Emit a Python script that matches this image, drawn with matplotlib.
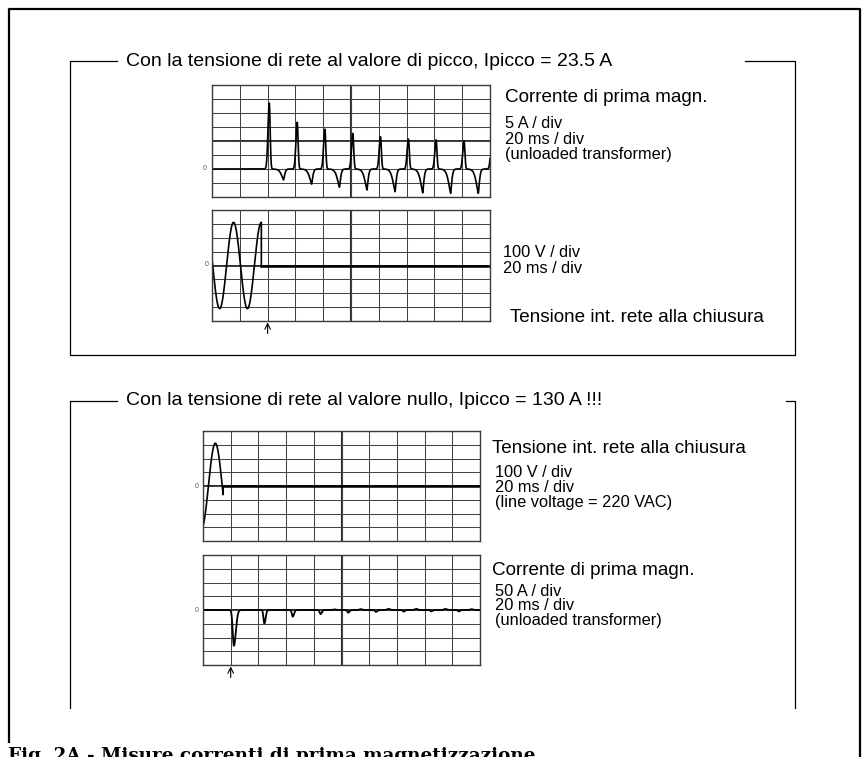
import numpy as np
import matplotlib.pyplot as plt

plt.rcParams['font.family'] = ['Liberation Sans', 'DejaVu Sans']

W, H = 868, 757

# --- oscilloscope readings (ms, A, V) ---
# peak-voltage switch-on: inrush current peaks and the negative dips between them
pk_t = [41.2, 61.3, 81.2, 101.3, 121.2, 141.3, 161.2, 181.3, 201.3]
pk_a = [23.5, 16.7, 14.2, 12.7, 11.5, 10.7, 10.4, 10.1, 10.0]
dip_t = [51.5, 71.7, 91.7, 111.5, 131.7, 151.6, 171.7, 191.6]
dip_a = [-3.9, -5.4, -6.5, -7.5, -8.1, -8.5, -8.7, -8.7]

# line voltage across the switch, peak-voltage case
v1_peak = 311.0
v1_zero_t = 0.5        # ms, downward-going zero crossing reference
v1_close_t = 35.5      # ms, switch closes at the voltage peak

# zero-voltage switch-on
v2_peak = 311.0
v2_zero_t = 3.9        # ms, upward zero crossing
v2_close_t = 14.6      # ms
i2_t = [22.3, 44.3, 64.8, 84.9, 104.8, 124.9, 144.9, 164.8, 184.7]
i2_a = [-130, -49, -24, -15, -10, -7, -6, -5, -5]
bump_t = [95, 114, 134, 154, 175, 194]
bump_a = [2, 3, 4, 4, 4, 3]

arrow1_t = 40
arrow2_t = 20


def px_axes(fig, x0, y0, x1, y1):
    return fig.add_axes([x0 / W, 1 - y1 / H, (x1 - x0) / W, (y1 - y0) / H])


def scope(ax, ylo, yhi, step):
    ax.set_xlim(0, 200)
    ax.set_ylim(ylo, yhi)
    ax.set_xticks(np.arange(0, 201, 20))
    ax.set_yticks(np.arange(ylo, yhi + step / 2, step))
    ax.grid(True, color='#444444', lw=0.75)
    ax.tick_params(length=0, labelbottom=False, labelleft=False)
    for s in ax.spines.values():
        s.set_color('#3c3c3c')
        s.set_linewidth(1.0)
    ax.axvline(100, color='#2a2a2a', lw=1.5, zorder=1)
    ax.axhline((ylo + yhi) / 2, color='#2a2a2a', lw=1.4, zorder=1)
    ax.set_facecolor('none')


def pulses(t, times, amps, sl, sr, p=2.0):
    y = np.zeros_like(t)
    for tc, a in zip(times, amps):
        s = np.where(t < tc, sl, sr)
        y += a * np.exp(-np.abs((t - tc) / s) ** p)
    return y


fig = plt.figure(figsize=(W / 100, H / 100), dpi=100)
bg = fig.add_axes([0, 0, 1, 1])
bg.set_xlim(0, W)
bg.set_ylim(H, 0)
bg.axis('off')

# outer frame
bg.plot([9, 9, 860, 860], [743, 9, 9, H], color='k', lw=1.6, solid_capstyle='butt')

# group brackets
lk = dict(color='k', lw=0.9)
bg.plot([117, 70, 70, 795, 795, 745], [60.7, 60.7, 355, 355, 60.7, 60.7], **lk)
bg.plot([117, 70, 70], [400.7, 400.7, 708], **lk)
bg.plot([786, 795, 795], [400.7, 400.7, 708], **lk)

bg.text(126, 66, 'Con la tensione di rete al valore di picco, Ipicco = 23.5 A',
        fontsize=14, va='baseline')
bg.text(126, 405, 'Con la tensione di rete al valore nullo, Ipicco = 130 A !!!',
        fontsize=14, va='baseline')

big, small = 13.6, 11.8
labels = [
    (505, 101.5, 'Corrente di prima magn.', big),
    (505, 128.3, '5 A / div', small),
    (505, 144.3, '20 ms / div', small),
    (505, 159.3, '(unloaded transformer)', small),
    (503, 256.7, '100 V / div', small),
    (503, 272.7, '20 ms / div', small),
    (510, 321.7, 'Tensione int. rete alla chiusura', big),
    (492, 453, 'Tensione int. rete alla chiusura', big),
    (495, 476.7, '100 V / div', small),
    (495, 492.2, '20 ms / div', small),
    (495, 507.5, '(line voltage = 220 VAC)', small),
    (492, 575, 'Corrente di prima magn.', big),
    (495, 596, '50 A / div', small),
    (495, 610.5, '20 ms / div', small),
    (495, 625, '(unloaded transformer)', small),
]
for x, y, s, fs in labels:
    bg.text(x, y, s, fontsize=fs, va='baseline')

bg.text(8, 761, 'Fig. 2A - Misure correnti di prima magnetizzazione',
        fontsize=13.2, fontweight='bold', family='DejaVu Serif', va='baseline')

t = np.linspace(0, 200, 4001)
tc = 'k'

# scope 1: inrush current, peak-voltage case
ax1 = px_axes(fig, 212, 85, 490, 197)
scope(ax1, -10, 30, 5)
i1 = pulses(t, pk_t, pk_a, 1.3, 0.9) + pulses(t, dip_t, dip_a, 2.2, 1.1, p=1.4)
ax1.plot(t, i1, color=tc, lw=1.2)

# scope 2: switch voltage, peak-voltage case
ax2 = px_axes(fig, 212, 210, 490, 321)
scope(ax2, -400, 400, 100)
tv = t[t <= v1_close_t]
v1 = -v1_peak * np.sin(2 * np.pi * (tv - v1_zero_t) / 20)
ax2.plot(np.r_[tv, v1_close_t], np.r_[v1, 0], color=tc, lw=1.2)
ax2.plot([v1_close_t, 200], [0, 0], color=tc, lw=1.8)

# scope 3: switch voltage, zero-voltage case
ax3 = px_axes(fig, 203, 431, 480, 541)
scope(ax3, -400, 400, 100)
tv = t[t <= v2_close_t]
v2 = v2_peak * np.sin(2 * np.pi * (tv - v2_zero_t) / 20)
ax3.plot(np.r_[tv, v2_close_t], np.r_[v2, 0], color=tc, lw=1.2)
ax3.plot([v2_close_t, 200], [0, 0], color=tc, lw=1.8)

# scope 4: inrush current, zero-voltage case
ax4 = px_axes(fig, 203, 555, 480, 665)
scope(ax4, -200, 200, 50)
i2 = pulses(t, i2_t[:1], i2_a[:1], 1.2, 2.0) + pulses(t, i2_t[1:], i2_a[1:], 0.9, 1.3)
i2 += pulses(t, bump_t, bump_a, 1.5, 1.5)
ax4.plot(t, i2, color=tc, lw=1.3)

# switch-on markers
for ax, ta in ((ax2, arrow1_t), (ax4, arrow2_t)):
    lo = ax.get_ylim()[0]
    ax.annotate('', xy=(ta, lo), xytext=(0, -9), textcoords='offset points',
                xycoords='data', annotation_clip=False,
                arrowprops=dict(arrowstyle='->', lw=0.8, color='k',
                                shrinkA=0, shrinkB=1))

# zero-level markers
for x, y in ((205, 169), (207, 265), (197, 486), (197, 610)):
    bg.text(x, y, '0', fontsize=5, color='#555', ha='center', va='center')

fig.savefig('out.png', dpi=100)
